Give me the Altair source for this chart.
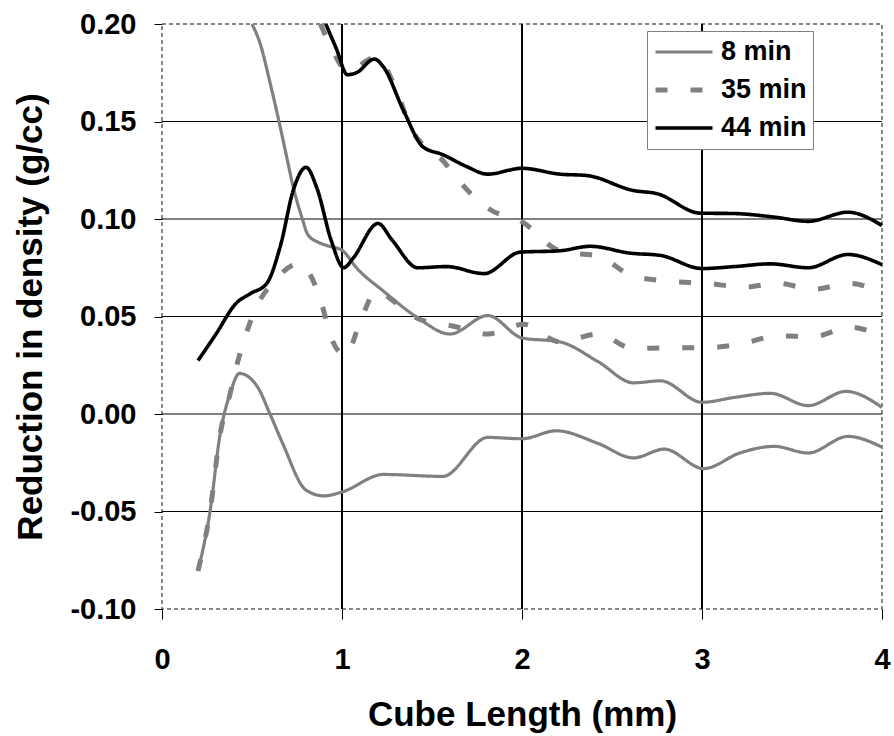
import altair as alt
import pandas as pd

# ---- data ----
series_names = ["8 min", "35 min", "44 min"]

x_8_upper = [0.50, 0.545, 0.60, 0.65, 0.69, 0.73, 0.78, 0.81, 0.87, 0.93, 1.00, 1.08, 1.23, 1.42,
             1.60, 1.81, 2.00, 2.21, 2.42, 2.62, 2.77, 3.00, 3.18, 3.38, 3.59, 3.80, 4.00]
y_8_upper = [0.200, 0.190, 0.170, 0.150, 0.133, 0.116, 0.100, 0.092, 0.088, 0.086, 0.084, 0.075, 0.063, 0.0494,
             0.041, 0.0505, 0.039, 0.037, 0.027, 0.016, 0.017, 0.006, 0.0085, 0.0106, 0.0043, 0.0116, 0.0034]

x_8_lower = [0.20, 0.27, 0.32, 0.38, 0.43, 0.53, 0.60, 0.67, 0.80, 0.90, 1.00, 1.23, 1.56, 1.81,
             2.00, 2.19, 2.42, 2.62, 2.79, 3.01, 3.21, 3.40, 3.59, 3.81, 4.00]
y_8_lower = [-0.0805, -0.048, -0.012, 0.011, 0.0208, 0.014, 0.000, -0.015, -0.039, -0.042, -0.040, -0.031, -0.032, -0.012,
             -0.0127, -0.0086, -0.015, -0.0225, -0.018, -0.028, -0.020, -0.0166, -0.020, -0.0115, -0.017]

x_35_upper = [0.88, 0.93, 1.03, 1.19, 1.31, 1.38, 1.45, 1.56, 1.62, 1.75, 1.82, 2.01, 2.17, 2.23,
              2.42, 2.61, 2.82, 3.03, 3.23, 3.42, 3.62, 3.82, 4.00]
y_35_upper = [0.200, 0.190, 0.176, 0.183, 0.164, 0.147, 0.138, 0.130, 0.123, 0.110, 0.105, 0.098, 0.0855, 0.083,
              0.081, 0.071, 0.068, 0.067, 0.065, 0.067, 0.064, 0.067, 0.062]

x_35_lower = [0.20, 0.27, 0.32, 0.38, 0.41, 0.46, 0.53, 0.62, 0.72, 0.77, 0.82, 0.89, 0.94, 1.02, 1.10,
              1.19, 1.30, 1.42, 1.62, 1.81, 2.01, 2.21, 2.42, 2.62, 2.82, 3.03, 3.22, 3.42, 3.62, 3.82, 4.00]
y_35_lower = [-0.0805, -0.048, -0.012, 0.011, 0.023, 0.039, 0.056, 0.0676, 0.076, 0.077, 0.072, 0.0556, 0.039, 0.030, 0.047,
              0.063, 0.057, 0.049, 0.045, 0.041, 0.046, 0.037, 0.041, 0.0335, 0.034, 0.034, 0.036, 0.040, 0.0397, 0.0445, 0.040]

x_44_upper = [0.91, 0.97, 1.03, 1.08, 1.18, 1.23, 1.34, 1.45, 1.56, 1.69, 1.81, 2.00, 2.21, 2.36,
              2.62, 2.75, 2.99, 3.18, 3.40, 3.59, 3.81, 4.00]
y_44_upper = [0.200, 0.187, 0.174, 0.175, 0.182, 0.178, 0.156, 0.137, 0.133, 0.127, 0.123, 0.126, 0.123, 0.1223,
              0.1146, 0.113, 0.103, 0.1028, 0.101, 0.0988, 0.1035, 0.0967]

x_44_lower = [0.20, 0.30, 0.41, 0.49, 0.58, 0.66, 0.73, 0.80, 0.86, 0.94, 1.01, 1.06, 1.20, 1.28, 1.42,
              1.58, 1.79, 1.99, 2.21, 2.38, 2.60, 2.77, 3.00, 3.18, 3.38, 3.59, 3.81, 4.00]
y_44_lower = [0.0274, 0.041, 0.0566, 0.0617, 0.0667, 0.087, 0.115, 0.1265, 0.116, 0.089, 0.075, 0.0797, 0.0977, 0.089, 0.075,
              0.0756, 0.072, 0.083, 0.0837, 0.086, 0.0825, 0.0813, 0.0746, 0.0756, 0.077, 0.075, 0.0818, 0.0766]

x_ticks = [0, 1, 2, 3, 4]
y_ticks = [-0.10, -0.05, 0.00, 0.05, 0.10, 0.15, 0.20]
h_grid = [-0.05, 0.00, 0.05, 0.10, 0.15]
v_grid = [1, 2, 3]

# ---- build table ----
curves = [
    ("8 min", "8u", x_8_upper, y_8_upper),
    ("8 min", "8l", x_8_lower, y_8_lower),
    ("35 min", "35u", x_35_upper, y_35_upper),
    ("35 min", "35l", x_35_lower, y_35_lower),
    ("44 min", "44u", x_44_upper, y_44_upper),
    ("44 min", "44l", x_44_lower, y_44_lower),
]
rows = []
for s, cid, xs, ys in curves:
    for xv, yv in zip(xs, ys):
        rows.append({"series": s, "curve": cid, "x": xv, "y": yv})
df = pd.DataFrame(rows)

FONT = "Liberation Sans"
xscale = alt.Scale(domain=[0, 4], nice=False, zero=False)
yscale = alt.Scale(domain=[-0.10, 0.20], nice=False, zero=False)

x_axis = alt.Axis(values=x_ticks, format="d", grid=False, domain=False, tickSize=10,
                  tickColor="black", tickWidth=1, labelFontSize=29, labelFont=FONT,
                  labelFontWeight="bold", labelColor="black", labelPadding=26,
                  labelFlush=False, labelOverlap=False,
                  title="Cube Length (mm)", titleFont=FONT, titleFontSize=35,
                  titleFontWeight="bold", titleColor="black",
                  titleX=360, titleY=116, titleAlign="center", titleBaseline="alphabetic")
y_axis = alt.Axis(values=y_ticks, grid=False, domain=False, tickSize=8,
                  labelExpr="(datum.value < 0 ? '-' : '') + format(abs(datum.value), '.2f')",
                  tickColor="black", tickWidth=1, labelFontSize=29, labelFont=FONT,
                  labelFontWeight="bold", labelColor="black", labelPadding=18,
                  labelFlush=False, labelOverlap=False,
                  title="Reduction in density (g/cc)", titleFont=FONT, titleFontSize=35,
                  titleFontWeight="bold", titleColor="black",
                  titleX=-132, titleY=292.5, titleAngle=270, titleAlign="center",
                  titleBaseline="middle")

hgrid = alt.Chart(pd.DataFrame({"v": h_grid})).mark_rule(color="black", strokeWidth=1).encode(
    y=alt.Y("v:Q", scale=yscale, axis=y_axis)
)
vgrid = alt.Chart(pd.DataFrame({"v": v_grid})).mark_rule(color="black", strokeWidth=2).encode(
    x=alt.X("v:Q", scale=xscale, axis=x_axis)
)

legend = alt.Legend(title=None, orient="none", legendX=485, legendY=7,
                    symbolType="stroke", symbolSize=3249, clipHeight=30, labelFont=FONT,
                    labelFontSize=27, labelFontWeight="bold", labelColor="black",
                    labelOffset=6, padding=6, rowPadding=8,
                    strokeColor="#808080", fillColor="white")

lines = alt.Chart(df).mark_line(interpolate="monotone", strokeCap="butt").encode(
    x=alt.X("x:Q", scale=xscale, axis=x_axis),
    y=alt.Y("y:Q", scale=yscale, axis=y_axis),
    color=alt.Color("series:N", scale=alt.Scale(domain=series_names, range=["#808080", "#808080", "#000000"]),
                    legend=legend),
    strokeDash=alt.StrokeDash("series:N", scale=alt.Scale(domain=series_names, range=[[1, 0], [12, 23], [1, 0]]),
                              legend=legend),
    strokeWidth=alt.StrokeWidth("series:N",
                                scale=alt.Scale(type="ordinal", domain=series_names, range=[3.2, 5, 3.6]),
                                legend=legend),
    detail="curve:N",
    order=alt.Order("x:Q"),
)

chart = alt.layer(hgrid, vgrid, lines).properties(
    width=720, height=585,
    autosize=alt.AutoSizeParams(type="none"),
    padding={"left": 162, "top": 24, "right": 12, "bottom": 127},
    background="white",
).configure_view(
    stroke="#606060", strokeDash=[4, 3], strokeWidth=1.5
)

chart.save("out.html", embed_options={"renderer": "svg", "actions": False})
